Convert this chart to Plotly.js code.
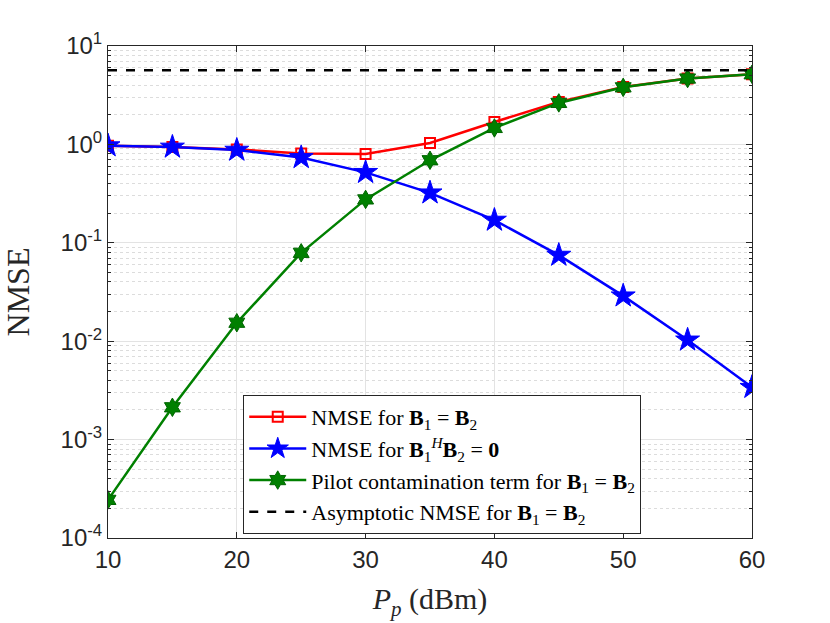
<!DOCTYPE html>
<html>
<head>
<meta charset="utf-8">
<script src="https://cdn.plot.ly/plotly-3.0.1.min.js"></script>
<style>
  html, body { margin: 0; padding: 0; background: #fff; }
  #chart { width: 830px; height: 623px; }
</style>
</head>
<body>
<div id="chart"></div>
<script>
    // --- DATA ---
    const pilotPower = [10, 15, 20, 25, 30, 35, 40, 45, 50, 55, 60];
    const nmseSameB = [0.97, 0.94, 0.89, 0.81, 0.80, 1.035, 1.69, 2.70, 3.84, 4.67, 5.16];
    const nmseOrthoB = [0.97, 0.94, 0.875, 0.736, 0.52, 0.322, 0.170, 0.0749, 0.0289, 0.0103, 0.0034];
    const pilotContamination = [2.44e-4, 2.13e-3, 0.0154, 0.0791, 0.276, 0.69, 1.47, 2.64, 3.80, 4.67, 5.16];
    const asymptoticNmse = 5.67;

    const yTickVals = [1e-4, 1e-3, 1e-2, 1e-1, 1, 10];
    const yTickText = ['10<sup>-4</sup>', '10<sup>-3</sup>', '10<sup>-2</sup>', '10<sup>-1</sup>', '10<sup>0</sup>', '10<sup>1</sup>'];
    const xTickVals = [10, 20, 30, 40, 50, 60];

    const B1 = '<b>B</b><sub>1</sub>';
    const B2 = '<b>B</b><sub>2</sub>';
    const EQ = '\u2005=\u2005';

    // --- TRACES ---
    const traces = [
        {
            x: pilotPower, y: nmseSameB,
            mode: 'lines+markers',
            name: 'NMSE for ' + B1 + EQ + B2,
            line: { color: '#ff0000', width: 2.5 },
            marker: { symbol: 'square-open', size: 10, color: '#ff0000', line: { width: 2 } }
        },
        {
            x: pilotPower, y: nmseOrthoB,
            mode: 'lines+markers',
            name: 'NMSE for ' + B1 + '<sup><i>H</i></sup>' + B2 + EQ + '<b>0</b>',
            line: { color: '#0000ff', width: 2.5 },
            marker: { symbol: 'star', size: 18, color: '#0000ff', line: { width: 1, color: '#0000ff' } }
        },
        {
            x: pilotPower, y: pilotContamination,
            mode: 'lines+markers',
            name: 'Pilot contamination term for ' + B1 + EQ + B2,
            line: { color: '#008000', width: 2.5 },
            marker: { symbol: 'hexagram', size: 14, color: '#008000', line: { width: 1, color: '#006400' } }
        },
        {
            x: pilotPower, y: pilotPower.map(() => asymptoticNmse),
            mode: 'lines',
            name: 'Asymptotic NMSE for ' + B1 + EQ + B2,
            line: { color: '#000000', width: 2.5, dash: 'dash' }
        }
    ];

    // --- LAYOUT ---
    const axisCommon = {
        showline: true,
        linecolor: '#262626',
        linewidth: 1,
        mirror: 'allticks',
        ticks: 'inside',
        ticklen: 6,
        tickcolor: '#262626',
        gridcolor: '#e3e3e3',
        gridwidth: 1,
        zeroline: false,
        tickfont: { family: 'Liberation Sans, Arial, sans-serif', size: 24, color: '#262626' }
    };

    const layout = {
        width: 830,
        height: 623,
        paper_bgcolor: '#ffffff',
        plot_bgcolor: '#ffffff',
        margin: { l: 108, r: 78, t: 46, b: 85 },
        showlegend: true,
        xaxis: Object.assign({}, axisCommon, {
            range: [10, 60],
            tickvals: xTickVals,
            title: {
                text: '<i>P</i><sub><i>p</i></sub> (dBm)',
                font: { family: 'Liberation Serif, Times New Roman, serif', size: 30, color: '#262626' },
                standoff: 16
            }
        }),
        yaxis: Object.assign({}, axisCommon, {
            type: 'log',
            range: [-4, 1],
            tickvals: yTickVals,
            ticktext: yTickText,
            minor: {
                dtick: 'D1',
                ticks: 'inside',
                ticklen: 3,
                tickcolor: '#262626',
                showgrid: true,
                gridcolor: '#dcdcdc',
                griddash: 'dot',
                gridwidth: 1
            },
            title: {
                text: 'NMSE',
                font: { family: 'Liberation Serif, Times New Roman, serif', size: 32, color: '#262626' },
                standoff: 22
            }
        }),
        legend: {
            x: 0.21, y: 0.2905,
            xanchor: 'left', yanchor: 'top',
            bgcolor: '#ffffff',
            bordercolor: '#262626',
            borderwidth: 1,
            itemwidth: 57,
            tracegroupgap: 0,
            font: { family: 'Liberation Serif, Times New Roman, serif', size: 22, color: '#000000' }
        }
    };

    Plotly.newPlot('chart', traces, layout, { displayModeBar: false, staticPlot: true });
</script>
</body>
</html>
